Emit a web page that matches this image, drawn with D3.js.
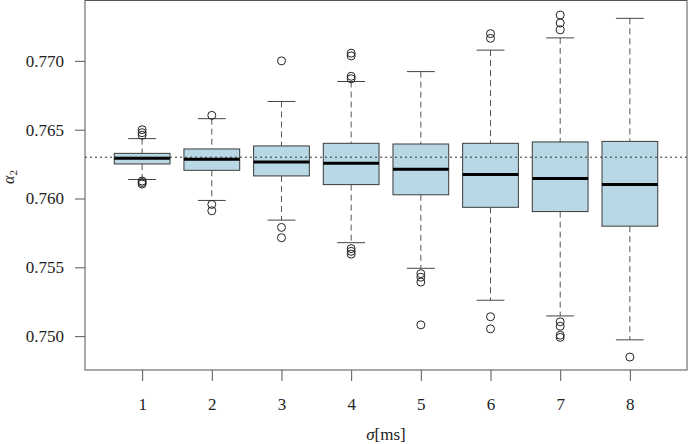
<!DOCTYPE html>
<html>
<head>
<meta charset="utf-8">
<script src="https://cdn.jsdelivr.net/npm/d3@7"></script>
<style>
  html, body { margin: 0; padding: 0; background: #fff; }
  svg text { font-family: "Liberation Serif", "DejaVu Serif", serif; }
</style>
</head>
<body>
<div id="chart"></div>
<script>
const width = 688;
const height = 444;
const margin = { top: 1, right: 1, bottom: 74, left: 85 };
const serif = '"Liberation Serif", "DejaVu Serif", serif';

// sigma [ms] groups
const groups = [1, 2, 3, 4, 5, 6, 7, 8];
// box statistics
const whiskerLow  = [0.76138, 0.75986, 0.75843, 0.75679, 0.75493, 0.75261, 0.75147, 0.74973];
const q1          = [0.76251, 0.76205, 0.76164, 0.76101, 0.76027, 0.75936, 0.75905, 0.75799];
const medians     = [0.76292, 0.76285, 0.76266, 0.76256, 0.76213, 0.76174, 0.76145, 0.76101];
const q3          = [0.76328, 0.76360, 0.76382, 0.76401, 0.76396, 0.76401, 0.76411, 0.76415];
const whiskerHigh = [0.76435, 0.76580, 0.76705, 0.76850, 0.76922, 0.77078, 0.77167, 0.77309];
const outliers = [
  [0.76500, 0.76478, 0.76460, 0.76127, 0.76116, 0.76105],
  [0.76604, 0.75957, 0.75911],
  [0.77000, 0.75790, 0.75715],
  [0.77056, 0.77036, 0.76888, 0.76870, 0.75636, 0.75616, 0.75596],
  [0.75454, 0.75428, 0.75393, 0.75082],
  [0.77198, 0.77164, 0.75141, 0.75053],
  [0.77333, 0.77275, 0.77225, 0.75104, 0.75072, 0.75007, 0.74991],
  [0.74848]
];
const referenceValue = 0.763;
const yTicks = [0.750, 0.755, 0.760, 0.765, 0.770];

const svg = d3.select('#chart').append('svg')
  .attr('width', width)
  .attr('height', height);

const x = d3.scaleLinear()
  .domain([0.18, 8.82])
  .range([margin.left, width - margin.right]);

const y = d3.scaleLinear()
  .domain([0.74754, 0.77435])
  .range([height - margin.bottom, margin.top]);

const unit = x(2) - x(1);
const boxW = unit * 0.8;
const capW = unit * 0.4;

const data = groups.map((g, i) => ({
  g, lo: whiskerLow[i], q1: q1[i], med: medians[i], q3: q3[i], hi: whiskerHigh[i], out: outliers[i]
}));

const box = svg.selectAll('.box')
  .data(data)
  .enter()
  .append('g')
  .attr('class', 'box');

// whiskers (dashed)
box.append('line')
  .attr('x1', d => x(d.g)).attr('x2', d => x(d.g))
  .attr('y1', d => y(d.hi)).attr('y2', d => y(d.q3))
  .attr('stroke', '#555').attr('stroke-dasharray', '6,4');
box.append('line')
  .attr('x1', d => x(d.g)).attr('x2', d => x(d.g))
  .attr('y1', d => y(d.q1)).attr('y2', d => y(d.lo))
  .attr('stroke', '#555').attr('stroke-dasharray', '6,4');

// caps
box.append('line')
  .attr('x1', d => x(d.g) - capW / 2).attr('x2', d => x(d.g) + capW / 2)
  .attr('y1', d => y(d.hi)).attr('y2', d => y(d.hi))
  .attr('stroke', '#444');
box.append('line')
  .attr('x1', d => x(d.g) - capW / 2).attr('x2', d => x(d.g) + capW / 2)
  .attr('y1', d => y(d.lo)).attr('y2', d => y(d.lo))
  .attr('stroke', '#444');

// box body
box.append('rect')
  .attr('x', d => x(d.g) - boxW / 2)
  .attr('width', boxW)
  .attr('y', d => y(d.q3))
  .attr('height', d => y(d.q1) - y(d.q3))
  .attr('fill', '#b9d8e5')
  .attr('stroke', '#3a3a3a');

// dotted reference line, over the boxes
svg.append('line')
  .attr('x1', margin.left).attr('x2', width - margin.right)
  .attr('y1', y(referenceValue)).attr('y2', y(referenceValue))
  .attr('stroke', '#333')
  .attr('stroke-dasharray', '2,3');

// median
box.append('line')
  .attr('x1', d => x(d.g) - boxW / 2).attr('x2', d => x(d.g) + boxW / 2)
  .attr('y1', d => y(d.med)).attr('y2', d => y(d.med))
  .attr('stroke', '#000').attr('stroke-width', 3);

// outliers
box.selectAll('circle')
  .data(d => d.out.map(v => ({ g: d.g, v })))
  .enter()
  .append('circle')
  .attr('cx', d => x(d.g))
  .attr('cy', d => y(d.v))
  .attr('r', 4)
  .attr('fill', 'none')
  .attr('stroke', '#222');

// frame
svg.append('rect')
  .attr('x', margin.left).attr('y', margin.top - 0.5)
  .attr('width', width - margin.right - margin.left)
  .attr('height', height - margin.bottom - margin.top + 0.5)
  .attr('fill', 'none')
  .attr('stroke', '#555');

// y axis
const yAxis = svg.append('g')
  .attr('transform', `translate(${margin.left},0)`)
  .call(d3.axisLeft(y).tickValues(yTicks).tickFormat(d3.format('.3f')).tickSize(10).tickPadding(11));
yAxis.attr('font-family', serif).attr('font-size', 17);
yAxis.select('.domain').remove();
yAxis.selectAll('line').attr('stroke', '#555');
yAxis.selectAll('text').attr('fill', '#222');

// x axis
const xAxis = svg.append('g')
  .attr('transform', `translate(0,${height - margin.bottom})`)
  .call(d3.axisBottom(x).tickValues(groups).tickFormat(d3.format('d')).tickSize(11).tickPadding(17));
xAxis.attr('font-family', serif).attr('font-size', 17);
xAxis.select('.domain').remove();
xAxis.selectAll('line').attr('stroke', '#555');
xAxis.selectAll('text').attr('fill', '#222');

// axis titles
const xTitle = svg.append('text')
  .attr('x', (margin.left + width - margin.right) / 2)
  .attr('y', 440)
  .attr('text-anchor', 'middle')
  .attr('font-family', serif)
  .attr('font-size', 17)
  .attr('fill', '#222');
xTitle.append('tspan').style('font-style', 'italic').text('σ');
xTitle.append('tspan').text('[ms]');

const yTitle = svg.append('text')
  .attr('transform', 'translate(14,177) rotate(-90)')
  .attr('text-anchor', 'middle')
  .attr('font-family', serif)
  .attr('font-size', 16)
  .attr('fill', '#222');
yTitle.append('tspan').style('font-style', 'italic').text('α');
yTitle.append('tspan').attr('dy', 3).attr('font-size', 11).text('2');
</script>
</body>
</html>
